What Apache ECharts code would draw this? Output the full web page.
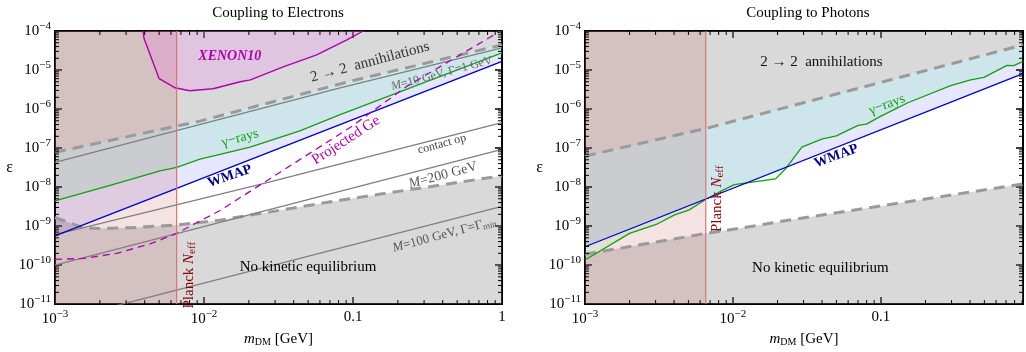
<!DOCTYPE html>
<html lang="en">
<head>
<meta charset="UTF-8" />
<title>Dark matter couplings</title>
<style>
  html, body { margin: 0; padding: 0; background: #fff; }
  #main { width: 1026px; height: 352px; }
</style>
</head>
<body>
<div id="main"></div>
<script src="https://cdn.jsdelivr.net/npm/echarts@6/dist/echarts.min.js"></script>
<script>
// all curves are [m_DM in GeV, epsilon]

// --- coupling to electrons ---
var eUpperDashed = [[1e-3, 7.8e-8], [9.4e-3, 4.9e-7], [9.5e-2, 5.1e-6], [1, 4.4e-5]];
var eM10 = [[1e-3, 4.3e-8], [8.2e-2, 3.5e-6], [1, 3.7e-5]];
var eGamma = [[1e-3, 4.4e-9], [2.34e-3, 1.1e-8], [5.07e-3, 2.6e-8], [6.56e-3, 3.2e-8], [9.4e-3, 5.2e-8],
  [1.28e-2, 6.9e-8], [2.04e-2, 1.05e-7], [4.4e-2, 2.75e-7], [8.2e-2, 7.2e-7], [1, 2.75e-5]];
var eWmap = [[1e-3, 5.6e-10], [1, 1.66e-5]];
var eContact = [[1e-3, 6.0e-10], [2.38e-2, 1.17e-8], [1, 4.5e-7]];
var eM200 = [[1e-3, 1.0e-10], [1, 9.3e-8]];
var eM100 = [[1e-3, 3.6e-12], [1, 3.2e-9]];
var eLowerDashed = [[1e-3, 1.66e-9], [1.54e-3, 9.1e-10], [2.0e-3, 8.7e-10], [3.33e-3, 9.1e-10],
  [6.56e-3, 1.07e-9], [1.22e-2, 1.38e-9], [2.38e-2, 2.1e-9], [8.2e-2, 4.6e-9], [1, 1.95e-8]];
var eGe = [[1e-3, 1.4e-10], [1.55e-3, 1.48e-10], [2.6e-3, 2.0e-10], [4.35e-3, 3.5e-10], [6.56e-3, 6.5e-10],
  [9.4e-3, 1.35e-9], [1.28e-2, 2.5e-9], [9.5e-2, 3.3e-7], [0.229, 3.8e-6], [0.92, 8.7e-5], [0.97, 1e-4]];
var eXenon = [[3.9e-3, 1e-4], [3.95e-3, 6.6e-5], [5.0e-3, 6.0e-6], [6.4e-3, 3.5e-6], [8.0e-3, 2.95e-6],
  [1.15e-2, 3.3e-6], [1.75e-2, 5.0e-6], [2.05e-2, 5.6e-6], [3.4e-2, 1.2e-5], [5.7e-2, 2.45e-5],
  [9.1e-2, 5.9e-5], [0.117, 1e-4]];

// --- coupling to photons ---
var pUpperDashed = [[1e-3, 6.2e-8], [6.6e-3, 3.2e-7], [1.49e-2, 7.2e-7], [0.912, 4.4e-5]];
var pLowerDashed = [[1e-3, 1.9e-10], [6.6e-3, 6.5e-10], [1.49e-2, 1.05e-9], [2.04e-2, 1.29e-9], [0.912, 1.2e-8]];
var pWmap = [[1e-3, 2.95e-10], [0.912, 8.1e-6]];
var pGamma = [[1e-3, 1.35e-10], [2.0e-3, 6.5e-10], [3.03e-3, 1.1e-9], [4.0e-3, 1.9e-9], [5.07e-3, 2.6e-9],
  [6.4e-3, 4.6e-9], [8.3e-3, 7.9e-9], [1.02e-2, 1.15e-8], [1.94e-2, 1.62e-8], [2.26e-2, 2.9e-8],
  [2.92e-2, 1.05e-7], [3.98e-2, 1.7e-7], [5.0e-2, 2.05e-7], [7.0e-2, 3.8e-7], [7.98e-2, 4.1e-7],
  [0.1, 6.6e-7], [0.152, 1.45e-6], [0.296, 4.0e-6], [0.404, 5.6e-6], [0.497, 6.5e-6],
  [0.711, 1.32e-5], [0.789, 1.29e-5], [0.912, 1.66e-5]];

var planckMass = 6.55e-3;
var xTicks = [1e-3, 1e-2, 0.1, 1];
var yTicks = [1e-11, 1e-10, 1e-9, 1e-8, 1e-7, 1e-6, 1e-5, 1e-4];

var XMIN = 1e-3, YMIN = 1e-11, YMAX = 1e-4;
var XMAX = [1, 0.912];
var SERIF = '"Liberation Serif", "DejaVu Serif", serif';

var GRAY_FILL = 'rgba(128,128,128,0.3)';
var GAMMA_FILL = 'rgba(0,255,60,0.1)';
var WMAP_FILL = 'rgba(30,30,240,0.11)';
var XENON_FILL = 'rgba(255,120,255,0.2)';
var PLANCK_FILL = 'rgba(180,30,30,0.13)';

function rev(a) { return a.slice().reverse(); }

function fill(pts, color, g) {
  return {
    type: 'custom', xAxisIndex: g * 2, yAxisIndex: g * 2, silent: true, clip: true, z: 1,
    data: [pts[0]],
    renderItem: function (params, api) {
      return { type: 'polygon', shape: { points: pts.map(function (p) { return api.coord(p); }) }, style: { fill: color } };
    }
  };
}

function curve(pts, color, width, dash, g) {
  return {
    type: 'line', xAxisIndex: g * 2, yAxisIndex: g * 2, data: pts, symbol: 'none', silent: true, z: 3,
    lineStyle: { color: color, width: width, type: dash || 'solid' }
  };
}

function richFor(size, color) {
  return {
    i: { fontFamily: SERIF, fontSize: size, fontStyle: 'italic', fill: color },
    sub: { fontFamily: SERIF, fontSize: Math.round(size * 0.7), padding: [6, 0, 0, 0], fill: color }
  };
}

function notes(list, g) {
  return {
    type: 'custom', xAxisIndex: g * 2, yAxisIndex: g * 2, silent: true, clip: false, z: 5,
    data: list.map(function (n) { return n.at; }),
    renderItem: function (params, api) {
      var n = list[params.dataIndex];
      var p = api.coord(n.at);
      return {
        type: 'text', x: p[0], y: p[1], rotation: (n.rot || 0) * Math.PI / 180,
        style: {
          text: n.text, fill: n.color, fontFamily: SERIF, fontSize: n.size,
          fontWeight: n.bold ? 'bold' : 'normal', fontStyle: n.italic ? 'italic' : 'normal',
          align: 'center', verticalAlign: 'middle', rich: richFor(n.size, n.color)
        }
      };
    }
  };
}

function minorTicks(g) {
  var xs = [], ys = [];
  for (var k = -3; k < 0; k++) for (var m = 2; m < 10; m++) { var v = m * Math.pow(10, k); if (v < XMAX[g]) xs.push(v); }
  for (var k2 = -11; k2 < -4; k2++) for (var m2 = 2; m2 < 10; m2++) ys.push(m2 * Math.pow(10, k2));
  return {
    type: 'custom', xAxisIndex: g * 2, yAxisIndex: g * 2, silent: true, clip: false, z: 6,
    data: [[XMIN, YMIN]],
    renderItem: function (params, api) {
      var kids = [], L = 4, st = { stroke: '#000', lineWidth: 1 };
      xs.forEach(function (v) {
        var b = api.coord([v, YMIN]), t = api.coord([v, YMAX]);
        kids.push({ type: 'line', shape: { x1: b[0], y1: b[1], x2: b[0], y2: b[1] - L }, style: st });
        kids.push({ type: 'line', shape: { x1: t[0], y1: t[1], x2: t[0], y2: t[1] + L }, style: st });
      });
      ys.forEach(function (v) {
        var l = api.coord([XMIN, v]), r = api.coord([XMAX[g], v]);
        kids.push({ type: 'line', shape: { x1: l[0], y1: l[1], x2: l[0] + L, y2: l[1] }, style: st });
        kids.push({ type: 'line', shape: { x1: r[0], y1: r[1], x2: r[0] - L, y2: r[1] }, style: st });
      });
      return { type: 'group', children: kids };
    }
  };
}

function expLabel(v) {
  var e = Math.round(Math.log10(v));
  if (Math.abs(Math.log10(v) - e) > 0.01) return '';
  if (e === 0) return '1';
  if (e === -1) return '0.1';
  return '10{sup|−' + (-e) + '}';
}

var labelRich = { sup: { fontFamily: SERIF, fontSize: 11, padding: [0, 0, 9, 0], color: '#000' } };
var frameLine = { lineStyle: { color: '#000', width: 2 } };
var majorTick = { inside: true, length: 7, lineStyle: { color: '#000', width: 1.5 } };

function xAxes(g) {
  var base = { gridIndex: g, type: 'log', min: XMIN, max: XMAX[g], axisLine: frameLine, axisTick: majorTick, splitLine: { show: false } };
  return [
    Object.assign({}, base, {
      position: 'bottom',
      axisLabel: { fontFamily: SERIF, fontSize: 15, color: '#000', margin: 5, formatter: function (v) { return g === 0 || v < 0.5 ? expLabel(v) : ''; }, rich: labelRich, showMinLabel: true, showMaxLabel: true },
      name: '{i|m}{sub|DM} [GeV]', nameLocation: 'middle', nameGap: 25,
      nameTextStyle: {
        fontFamily: SERIF, fontSize: 15, color: '#000',
        rich: { i: { fontFamily: SERIF, fontSize: 15, fontStyle: 'italic', color: '#000' }, sub: { fontFamily: SERIF, fontSize: 10, padding: [6, 0, 0, 0], color: '#000' } }
      }
    }),
    Object.assign({}, base, { position: 'top', axisLabel: { show: false } })
  ];
}

function yAxes(g) {
  var base = { gridIndex: g, type: 'log', min: YMIN, max: YMAX, axisLine: frameLine, axisTick: majorTick, splitLine: { show: false } };
  return [
    Object.assign({}, base, {
      position: 'left',
      axisLabel: { fontFamily: SERIF, fontSize: 15, color: '#000', margin: 4, formatter: expLabel, rich: labelRich, showMinLabel: true, showMaxLabel: true },
      name: 'ε', nameLocation: 'middle', nameRotate: 0, nameGap: 42,
      nameTextStyle: { fontFamily: SERIF, fontSize: 16, color: '#000' }
    }),
    Object.assign({}, base, { position: 'right', axisLabel: { show: false } })
  ];
}

var GRAY_LINE = '#7f7f7f', DASH_LINE = '#9a9a9a', GREEN = '#10a010', BLUE = '#0000c8', MAGENTA = '#b000b0', PLANCK_LINE = '#e07272';
var DASH = [11, 7];

var electronNotes = [
  { at: [0.0149, 2.2e-5], text: 'XENON10', color: MAGENTA, size: 14, bold: true, italic: true },
  { at: [0.13, 1.6e-5], text: '2 → 2  annihilations', color: '#333', size: 15, rot: 15 },
  { at: [0.395, 8.1e-6], text: '{i|M}=10 GeV, Γ=1 GeV', color: '#666', size: 12, rot: 15 },
  { at: [0.0175, 1.8e-7], text: 'γ−rays', color: GREEN, size: 14, rot: 15 },
  { at: [0.0149, 1.9e-8], text: 'WMAP', color: '#00008b', size: 14, bold: true, rot: 19 },
  { at: [0.0897, 1.58e-7], text: 'Projected Ge', color: MAGENTA, size: 15, rot: 33 },
  { at: [0.395, 1.26e-7], text: 'contact op', color: '#444', size: 12, rot: 15 },
  { at: [0.402, 2.0e-8], text: '{i|M}=200 GeV', color: '#555', size: 14, rot: 15 },
  { at: [0.41, 6.0e-10], text: '{i|M}=100 GeV, Γ=Γ{sub|min}', color: '#555', size: 13, rot: 15 },
  { at: [0.0499, 8.7e-11], text: 'No kinetic equilibrium', color: '#000', size: 15 },
  { at: [7.9e-3, 5.5e-11], text: 'Planck {i|N}{sub|eff}', color: '#8b0000', size: 15, rot: 90 }
];

var photonNotes = [
  { at: [0.0396, 1.6e-5], text: '2 → 2  annihilations', color: '#111', size: 15 },
  { at: [0.11, 1.3e-6], text: 'γ−rays', color: GREEN, size: 14, rot: 20 },
  { at: [0.0499, 6.2e-8], text: 'WMAP', color: '#00008b', size: 14, bold: true, rot: 20 },
  { at: [7.8e-3, 5.0e-9], text: 'Planck {i|N}{sub|eff}', color: '#8b0000', size: 15, rot: 90 },
  { at: [0.039, 8.3e-11], text: 'No kinetic equilibrium', color: '#000', size: 15 }
];

function planckBox(g) { return [[XMIN, YMIN], [planckMass, YMIN], [planckMass, YMAX], [XMIN, YMAX]]; }

var series = [
  // electrons
  fill(eLowerDashed.concat([[1, 1e-13], [XMIN, 1e-13]]), GRAY_FILL, 0),
  fill(eUpperDashed.concat([[1, 1e-3], [XMIN, 1e-3]]), GRAY_FILL, 0),
  fill(eGamma.concat(rev(eUpperDashed)), GAMMA_FILL, 0),
  fill(eWmap.concat(rev(eUpperDashed)), WMAP_FILL, 0),
  fill(eXenon, XENON_FILL, 0),
  fill(planckBox(0), PLANCK_FILL, 0),
  curve(eUpperDashed, DASH_LINE, 3, DASH, 0),
  curve(eLowerDashed, DASH_LINE, 3, DASH, 0),
  curve(eM10, GRAY_LINE, 1.3, null, 0),
  curve(eContact, GRAY_LINE, 1.3, null, 0),
  curve(eM200, GRAY_LINE, 1.3, null, 0),
  curve(eM100, GRAY_LINE, 1.3, null, 0),
  curve(eGamma, GREEN, 1.3, null, 0),
  curve(eWmap, BLUE, 1.3, null, 0),
  curve(eGe, MAGENTA, 1.3, [7, 5], 0),
  curve(eXenon, MAGENTA, 1.4, null, 0),
  curve([[planckMass, YMIN], [planckMass, YMAX]], PLANCK_LINE, 1.2, null, 0),
  notes(electronNotes, 0),
  minorTicks(0),
  // photons
  fill(pLowerDashed.concat([[1, 1e-13], [XMIN, 1e-13]]), GRAY_FILL, 1),
  fill(pUpperDashed.concat([[1, 1e-3], [XMIN, 1e-3]]), GRAY_FILL, 1),
  fill(pGamma.concat(rev(pUpperDashed)), GAMMA_FILL, 1),
  fill(pWmap.concat(rev(pUpperDashed)), WMAP_FILL, 1),
  fill(planckBox(1), PLANCK_FILL, 1),
  curve(pUpperDashed, DASH_LINE, 3, DASH, 1),
  curve(pLowerDashed, DASH_LINE, 3, DASH, 1),
  curve(pGamma, GREEN, 1.3, null, 1),
  curve(pWmap, BLUE, 1.3, null, 1),
  curve([[planckMass, YMIN], [planckMass, YMAX]], PLANCK_LINE, 1.2, null, 1),
  notes(photonNotes, 1),
  minorTicks(1)
];

var chart = echarts.init(document.getElementById('main'));
chart.setOption({
  animation: false,
  backgroundColor: '#fff',
  grid: [
    { left: 55, top: 31, width: 447, height: 275 },
    { left: 585, top: 31, width: 441, height: 275 }
  ],
  xAxis: xAxes(0).concat(xAxes(1)),
  yAxis: yAxes(0).concat(yAxes(1)),
  graphic: [
    { type: 'text', x: 278, y: 13, style: { text: 'Coupling to Electrons', fill: '#000', font: '15px ' + SERIF, align: 'center', verticalAlign: 'middle' } },
    { type: 'text', x: 808, y: 13, style: { text: 'Coupling to Photons', fill: '#000', font: '15px ' + SERIF, align: 'center', verticalAlign: 'middle' } }
  ],
  series: series
});
</script>
</body>
</html>
